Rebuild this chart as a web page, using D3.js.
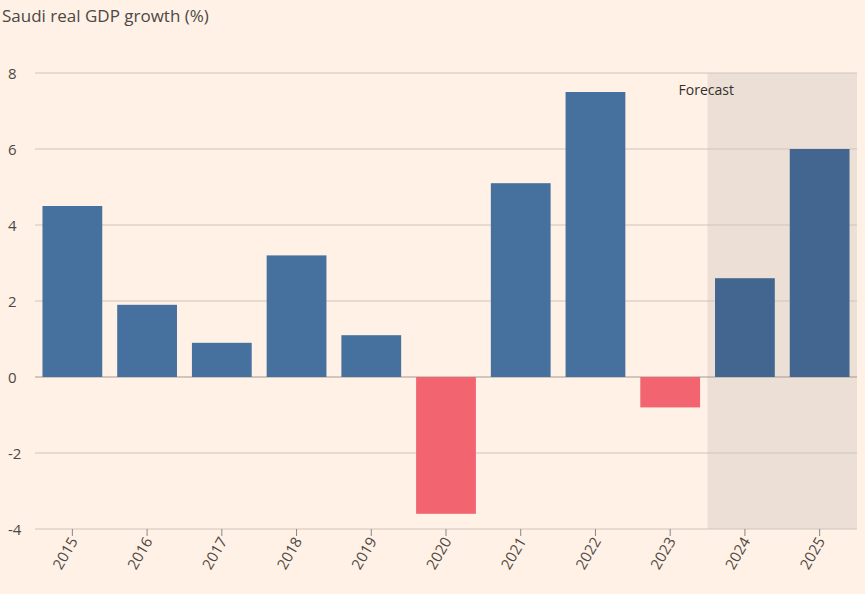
<!DOCTYPE html>
<html><head><meta charset="utf-8">
<script src="https://cdn.jsdelivr.net/npm/d3@7"></script>
<style>body{margin:0;background:#fff1e5;}svg{display:block;font-family:"Open Sans",sans-serif;}</style>
</head><body><svg id="c" width="865" height="594"></svg>
<script>
const years=["2015","2016","2017","2018","2019","2020","2021","2022","2023","2024","2025"];
const growth=[4.5,1.9,0.9,3.2,1.1,-3.6,5.1,7.5,-0.8,2.6,6.0];
const yTicks=[-4,-2,0,2,4,6,8];
const forecastYears=["2024","2025"];
const svg=d3.select("#c");
svg.append("rect").attr("width",865).attr("height",594).attr("fill","#fff1e5");
const x=d3.scaleBand().domain(years).range([35,857]).paddingInner(0.2).paddingOuter(0.1);
const y=d3.scaleLinear().domain([-4,8]).range([529,73]);
// forecast shade
const fx0=x(forecastYears[0])-x.step()*x.paddingInner()/2;
svg.append("rect").attr("x",fx0).attr("y",y(8)).attr("width",857-fx0).attr("height",y(-4)-y(8)).attr("fill","#ecdfd5");
svg.append("text").attr("x",fx0-29).attr("y",95).attr("font-size",14).attr("fill","#33302e").text("Forecast");
// grid
svg.selectAll("line.g").data(yTicks).join("line").attr("x1",35).attr("x2",857)
 .attr("y1",d=>y(d)).attr("y2",d=>y(d)).attr("stroke",d=>d===0?"#a39b93":"#cfc5bd").attr("stroke-width",1);
svg.selectAll("text.yt").data(yTicks).join("text").attr("x",8).attr("y",d=>y(d)+6)
 .attr("font-size",15).attr("fill","#4d4845").text(d=>d);
// bars
svg.selectAll("rect.b").data(years).join("rect")
 .attr("x",d=>x(d)).attr("width",x.bandwidth())
 .attr("y",(d,i)=>y(Math.max(0,growth[i]))).attr("height",(d,i)=>Math.abs(y(growth[i])-y(0)))
 .attr("fill",(d,i)=>growth[i]<0?"#f2646f":(forecastYears.includes(d)?"#42668f":"#46709e"));
// x ticks
svg.selectAll("line.xt").data(years).join("line").attr("x1",d=>x(d)+x.bandwidth()/2).attr("x2",d=>x(d)+x.bandwidth()/2)
 .attr("y1",529).attr("y2",536).attr("stroke","#8c8580");
svg.selectAll("text.xl").data(years).join("text")
 .attr("transform",d=>`translate(${x(d)+x.bandwidth()/2+6},${541}) rotate(-60)`)
 .attr("text-anchor","end").attr("font-size",15).attr("fill","#4d4845").text(d=>d);
svg.append("text").attr("x",2).attr("y",22).attr("font-size",17).attr("fill","#4d4845").text("Saudi real GDP growth (%)");
</script></body></html>
